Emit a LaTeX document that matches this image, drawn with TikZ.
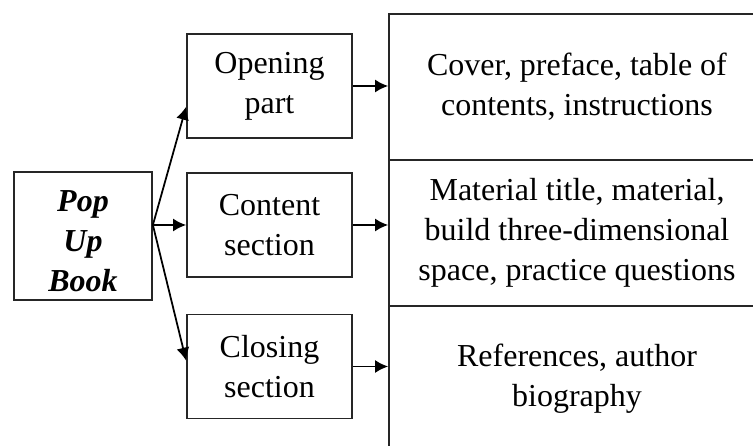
\documentclass[tikz,border=0pt]{standalone}
\usepackage{fontspec}
\setmainfont{Liberation Serif}
\usetikzlibrary{calc,arrows.meta}
\tikzset{
	secbox/.style={draw=black!85, line width=1pt, minimum width=3.3cm, minimum height=2.08cm, align=center, inner sep=0pt},
	itembox/.style={draw=black!85, line width=1pt, minimum width=7.52cm, minimum height=2.92cm, align=center, inner sep=0pt},
	arr/.style={line width=1pt, -{Latex[length=2.6mm,width=2.6mm]}}
}

\begin{document}
\begin{tikzpicture}[font=\fontsize{18.2}{22.8}\selectfont]
		%%%%% START %%%%%
		\useasboundingbox (0, 0) rectangle (15.06, 8.92);
		\clip (0, 0) rectangle (15.06, 8.92);
		
		\node[secbox, minimum width=2.76cm, minimum height=2.56cm, font=\fontsize{18.2}{22.8}\selectfont\bfseries\itshape] (book) at (1.66, 4.2) {\rule{0pt}{0.62cm}Pop\\Up\\Book};
		
		\node[secbox] (opening) at (5.39, 7.2) {Opening\\part};
		\node[secbox] (content) at (5.39, 4.42) {Content\\section};
		\node[secbox] (closing) at (5.39, 1.59) {Closing\\section};
		
		\node[itembox] (cover) at (11.54, 7.18) {Cover, preface, table of\\contents, instructions};
		\node[itembox] (material) at (11.54, 4.26) {Material title, material,\\build three-dimensional\\space, practice questions};
		\node[itembox] (refs) at (11.54, 1.34) {References, author\\biography};
		
		\coordinate (hub) at (book.east |- content.west);
		\draw[arr] (hub) -- (opening.194);
		\draw[arr] (hub) -- (content.west);
		\draw[arr] (hub) -- (closing.176);
		
		\draw[arr] (opening.east) -- (opening.east -| cover.west);
		\draw[arr] (content.east) -- (content.east -| material.west);
		\draw[arr] (closing.east) -- (closing.east -| refs.west);
		%%%%% END %%%%%
	\end{tikzpicture}
\end{document}
